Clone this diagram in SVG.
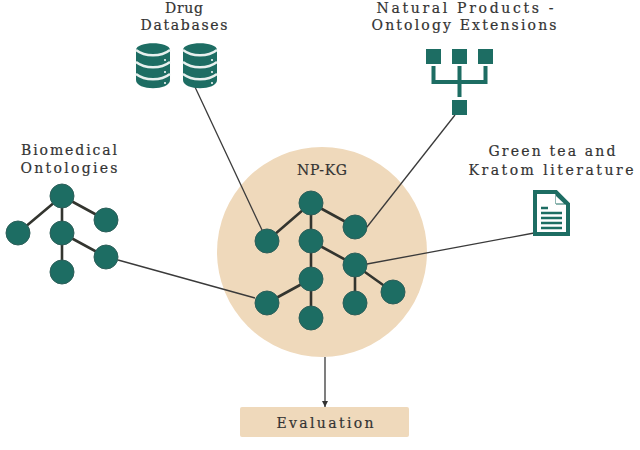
<svg xmlns="http://www.w3.org/2000/svg" width="640" height="450" viewBox="0 0 640 450">
<style>
text{font-family:"DejaVu Serif",serif;font-size:14px;fill:#333;text-anchor:middle;stroke:#333;stroke-width:.2}
.n{fill:#1d6d63;stroke:#2d5f5a;stroke-width:1}
.e{stroke:#33352f;stroke-width:2.6;fill:none}
.c{stroke:#3a3a3a;stroke-width:1.3;fill:none}
.t{fill:#1d6d63}
.b{fill:#efd9bb}
</style>
<defs>
<marker id="arrow" markerUnits="userSpaceOnUse" markerWidth="7" markerHeight="6" refX="6" refY="3" orient="auto"><path d="M0 0L6 3L0 6Z" fill="#333"/></marker>
<g id="disks">
<path class="t" d="M-17 -16C-17 -25 17 -25 17 -16V14C17 25 -17 25 -17 14Z"/>
<path d="M-17 -16C-8 -9 8 -9 17 -16M-17 -4C-8 3 8 3 17 -4M-17 8C-8 15 8 15 17 8" fill="none" stroke="#e8f0ee" stroke-width="2.400"/>
<circle cx="12" cy="-6" r="1" fill="#fff"/><circle cx="12" cy="6" r="1" fill="#fff"/><circle cx="12" cy="17" r="1" fill="#fff"/>
</g>
</defs>
<g id="np-kg">
<circle class="b" cx="322" cy="252" r="105"/>
<text x="322" y="175" textLength="50">NP-KG</text>
<g id="np-kg-edges">
<path class="e" d="M311 203L267 241M311 203L355 227M311 203V241M311 241L355 265M311 241V279M311 279L267 303M311 279V318M355 265V303M355 265L393 292"/>
</g>
<circle class="n" cx="311" cy="203" r="12"/>
<circle class="n" cx="267" cy="241" r="12"/>
<circle class="n" cx="355" cy="227" r="12"/>
<circle class="n" cx="311" cy="241" r="12"/>
<circle class="n" cx="355" cy="265" r="12"/>
<circle class="n" cx="311" cy="279" r="12"/>
<circle class="n" cx="267" cy="303" r="12"/>
<circle class="n" cx="311" cy="318" r="12"/>
<circle class="n" cx="355" cy="303" r="12"/>
<circle class="n" cx="393" cy="292" r="12"/>
</g>
<g id="connectors">
<path class="c" d="M195 87L262 230"/>
<path class="c" d="M455 115L367 227"/>
<path class="c" d="M534 233L367 264"/>
<path class="c" d="M118 260L255 298"/>
<path class="c" d="M325 357V407" marker-end="url(#arrow)"/>
</g>
<g id="biomedical-ontologies">
<text x="69" y="155" textLength="96">Biomedical</text>
<text x="69" y="173" textLength="97">Ontologies</text>
<path class="e" d="M62 196L18 233M62 196L106 220M62 196V272M62 233L106 257"/>
<circle class="n" cx="62" cy="196" r="12"/>
<circle class="n" cx="18" cy="233" r="12"/>
<circle class="n" cx="106" cy="220" r="12"/>
<circle class="n" cx="62" cy="233" r="12"/>
<circle class="n" cx="106" cy="257" r="12"/>
<circle class="n" cx="62" cy="272" r="12"/>
</g>
<g id="drug-databases">
<text x="184" y="13" textLength="38">Drug</text>
<text x="184" y="30" textLength="87">Databases</text>
<use href="#disks" x="153" y="66"/>
<use href="#disks" x="200" y="66"/>
</g>
<g id="natural-products">
<text x="465" y="13" textLength="177">Natural Products -</text>
<text x="464" y="30" textLength="185">Ontology Extensions</text>
<g class="t">
<rect x="426" y="49" width="15" height="15"/>
<rect x="452" y="49" width="15" height="15"/>
<rect x="478" y="49" width="15" height="15"/>
<rect x="452" y="100" width="15" height="15"/>
</g>
<path d="M433.500 66V82H485.500V66M459.500 66V97" fill="none" stroke="#1d6d63" stroke-width="4"/>
</g>
<g id="literature">
<text x="552" y="156" textLength="127">Green tea and</text>
<text x="551" y="175" textLength="165">Kratom literature</text>
<path d="M535 192H556L568 204V234H535Z" fill="#fff" stroke="#1d6d63" stroke-width="4"/>
<path class="t" d="M556 192V204H568Z" stroke="#1d6d63" stroke-width="1"/>
<path d="M556 196L564 203.500H556Z" fill="#fff"/>
<path d="M541 208H548M541 213H562M541 218H562M541 223H562M541 228H562" stroke="#1d6d63" stroke-width="2.500"/>
</g>
<g id="evaluation">
<rect class="b" x="240" y="407" width="169" height="30" rx="2"/>
<text x="325" y="428" textLength="97">Evaluation</text>
</g>
</svg>
